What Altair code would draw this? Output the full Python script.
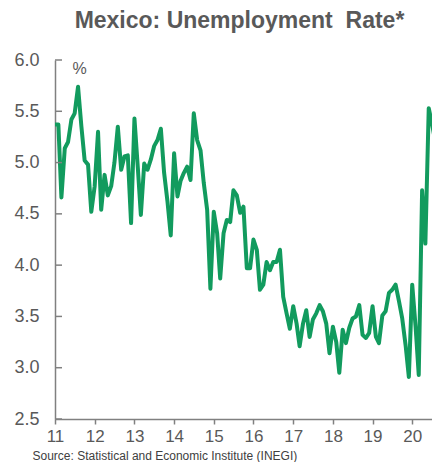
import altair as alt
import pandas as pd

# Monthly unemployment rate (%), Jan 2011 - Aug 2020
rate_2011 = [5.37, 5.37, 4.66, 5.14, 5.20, 5.42, 5.48, 5.74, 5.35, 5.02, 4.98, 4.52]
rate_2012 = [4.77, 5.30, 4.54, 4.88, 4.68, 4.77, 5.00, 5.35, 4.93, 5.06, 5.07, 4.41]
rate_2013 = [5.43, 4.95, 4.49, 4.99, 4.93, 5.03, 5.16, 5.22, 5.33, 4.90, 4.62, 4.29]
rate_2014 = [5.09, 4.67, 4.82, 4.90, 4.96, 4.83, 5.48, 5.22, 5.12, 4.80, 4.54, 3.77]
rate_2015 = [4.52, 4.31, 3.87, 4.31, 4.44, 4.42, 4.73, 4.68, 4.51, 4.57, 3.97, 3.97]
rate_2016 = [4.25, 4.15, 3.76, 3.81, 4.03, 3.95, 4.03, 4.03, 4.15, 3.69, 3.53, 3.38]
rate_2017 = [3.60, 3.43, 3.21, 3.43, 3.56, 3.30, 3.47, 3.53, 3.61, 3.55, 3.43, 3.14]
rate_2018 = [3.40, 3.25, 2.95, 3.37, 3.24, 3.39, 3.48, 3.50, 3.61, 3.32, 3.29, 3.34]
rate_2019 = [3.60, 3.30, 3.24, 3.51, 3.55, 3.73, 3.76, 3.81, 3.65, 3.48, 3.22, 2.91]
rate_2020 = [3.81, 3.40, 2.93, 4.73, 4.21, 5.53, 5.38, 5.20]

rate = rate_2011 + rate_2012 + rate_2013 + rate_2014 + rate_2015 + rate_2016 + rate_2017 + rate_2018 + rate_2019 + rate_2020
months = pd.date_range("2011-01-01", periods=len(rate), freq="MS").strftime("%Y-%m-%dT00:00:00").tolist()

year_ticks = [2011, 2012, 2013, 2014, 2015, 2016, 2017, 2018, 2019, 2020]
y_ticks = [2.5, 3.0, 3.5, 4.0, 4.5, 5.0, 5.5, 6.0]

title_text = "Mexico: Unemployment\u00a0 Rate*"
source_text = "Source: Statistical and Economic Institute (INEGI)"

FONT = "Liberation Sans"
GRAY = "#595959"
AXIS_GRAY = "#808080"

df = pd.DataFrame({"date": months, "rate": rate})
tick_df = pd.DataFrame({"v": y_ticks})

x_scale = alt.Scale(domain=[alt.DateTime(year=2011, month=1, date=1),
                            alt.DateTime(year=2020, month=7, date=1)])
y_scale = alt.Scale(domain=[2.5, 6.0], nice=False, zero=False)

y_axis = alt.Axis(values=y_ticks, format=".1f", grid=False, ticks=False,
                  labelFont=FONT, labelFontSize=18, labelColor=GRAY,
                  labelPadding=16, domainColor=AXIS_GRAY, domainWidth=1.5,
                  title="%", titleFont=FONT, titleFontSize=16,
                  titleFontWeight="normal", titleColor=GRAY, titleAngle=0,
                  titleAlign="left", titleBaseline="top",
                  titleX=17, titleY=0)

x_axis = alt.Axis(values=[alt.DateTime(year=y, month=1, date=1) for y in year_ticks],
                  format="%y", grid=False, labelFlush=False,
                  labelFont=FONT, labelFontSize=17, labelColor=GRAY,
                  labelPadding=4, tickSize=5, tickColor=AXIS_GRAY,
                  domainColor=AXIS_GRAY, domainWidth=1.5, tickWidth=1.5,
                  title=source_text, titleFont=FONT, titleFontSize=12,
                  titleFontWeight="normal", titleColor="#404040",
                  titleAlign="left", titleBaseline="top",
                  titleX=-23, titleY=31)

line = alt.Chart(df).mark_line(color="#129B5E", strokeWidth=4, clip=True,
                               strokeJoin="round").encode(
    x=alt.X("date:T", scale=x_scale, axis=x_axis),
    y=alt.Y("rate:Q", scale=y_scale, axis=y_axis),
)

ticks = alt.Chart(tick_df).mark_rule(color=AXIS_GRAY, strokeWidth=1.5).encode(
    y=alt.Y("v:Q", scale=y_scale, axis=y_axis),
    x=alt.value(0),
    x2=alt.value(7),
)

chart = alt.layer(line, ticks).properties(
    width=377,
    height=359,
    title=alt.Title(title_text, font=FONT, fontSize=23, fontWeight="bold",
                    color=GRAY, anchor="middle", offset=18, dx=-4),
    padding={"left": 47, "top": 52, "right": 0, "bottom": 43},
    autosize="none",
).configure_view(stroke=None)

chart.save("out.html", embed_options={"renderer": "svg", "actions": False})
